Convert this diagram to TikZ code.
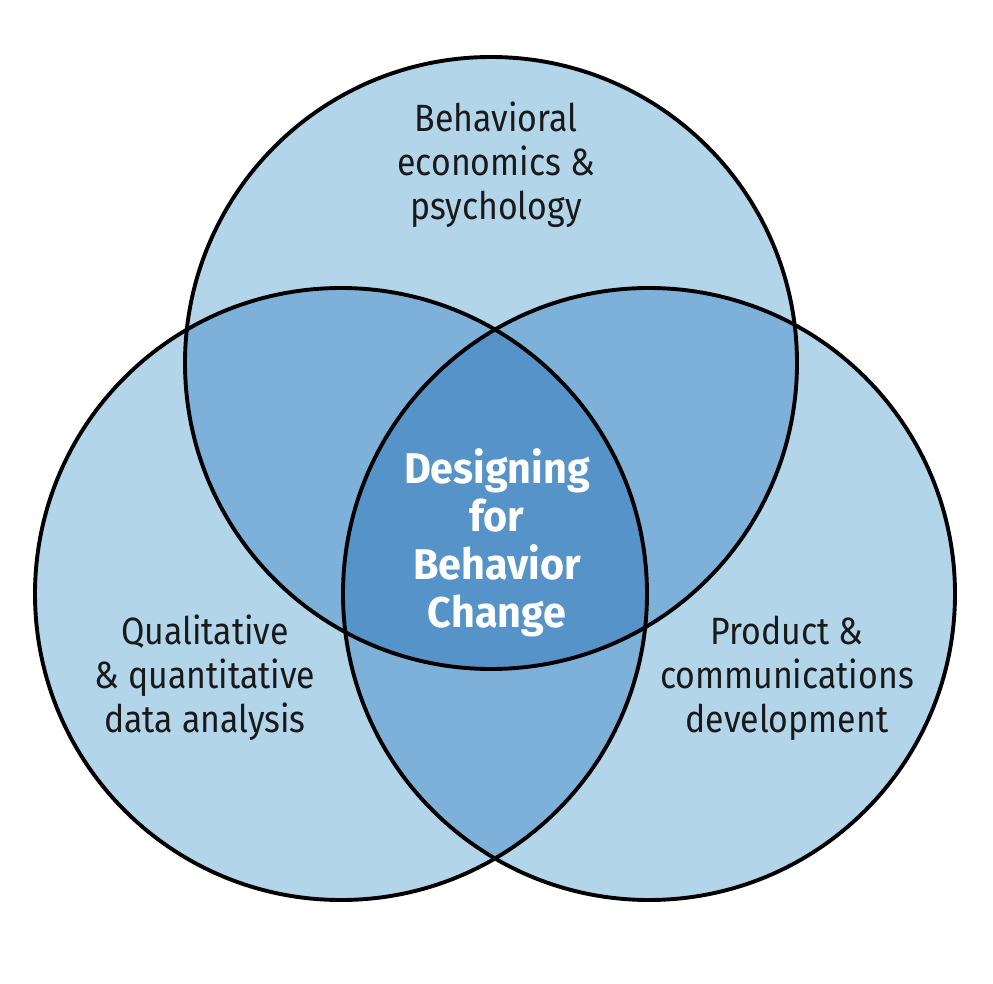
\documentclass[tikz,border=0pt]{standalone}
\usepackage{fontspec}
\setmainfont{Fira Sans}[FakeStretch=0.89]
\newfontfamily\corefont{Fira Sans}[FakeStretch=0.96]
\definecolor{outerblue}{RGB}{179,213,234}
\definecolor{pairblue}{RGB}{125,177,217}
\definecolor{coreblue}{RGB}{86,147,200}
\tikzset{
  ring/.style={draw=black, line width=3.9pt},
  label/.style={align=center, font=\fontsize{38}{44}\selectfont, text=black!90},
  corelabel/.style={align=center, font=\corefont\fontsize{43}{48}\selectfont\bfseries, text=white},
}
\begin{document}
\begin{tikzpicture}[x=1pt,y=-1pt]
\useasboundingbox (0,0) rectangle (993,984);
\fill[white] (0,0) rectangle (993,984);
\def\R{306}
\coordinate (T) at (491,363);
\coordinate (L) at (341,594);
\coordinate (Rc) at (649,594);
% single fills
\fill[outerblue] (T) circle[radius=\R];
\fill[outerblue] (L) circle[radius=\R];
\fill[outerblue] (Rc) circle[radius=\R];
% pairwise
\begin{scope}
  \clip (T) circle[radius=\R];
  \fill[pairblue] (L) circle[radius=\R];
  \fill[pairblue] (Rc) circle[radius=\R];
\end{scope}
\begin{scope}
  \clip (L) circle[radius=\R];
  \fill[pairblue] (Rc) circle[radius=\R];
\end{scope}
% core
\begin{scope}
  \clip (T) circle[radius=\R];
  \clip (L) circle[radius=\R];
  \fill[coreblue] (Rc) circle[radius=\R];
\end{scope}
% outlines
\draw[ring] (T) circle[radius=\R];
\draw[ring] (L) circle[radius=\R];
\draw[ring] (Rc) circle[radius=\R];
% labels
\node[label] (top) at (496,165) {Behavioral\\economics \&\\psychology};
\node[label] (left) at (205,678) {Qualitative\\\& quantitative\\data analysis};
\node[label] (right) at (787,678) {Product \&\\communications\\development};
\node[corelabel] (core) at (497,543) {Designing\\for\\Behavior\\Change};
\end{tikzpicture}
\end{document}
